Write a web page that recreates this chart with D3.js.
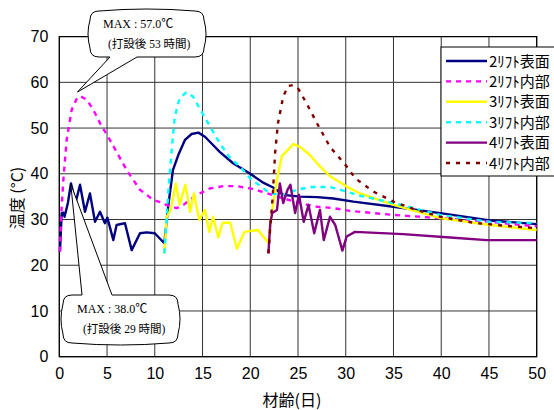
<!DOCTYPE html>
<html><head><meta charset="utf-8">
<script src="https://cdn.jsdelivr.net/npm/d3@7"></script>
<style>body{margin:0;background:#fff} svg{display:block}</style>
</head><body><svg id="c" width="554" height="410"></svg>
<script>
const seriesNames = ["2ﾘﾌﾄ表面","2ﾘﾌﾄ内部","3ﾘﾌﾄ表面","3ﾘﾌﾄ内部","4ﾘﾌﾄ表面","4ﾘﾌﾄ内部"];
const xTicks = [0,5,10,15,20,25,30,35,40,45,50];
const yTicks = [0,10,20,30,40,50,60,70];

const days2S = [0.07,0.25,0.42,0.55,0.9,1.22,1.7,2.17,2.69,3.21,3.74,4.26,4.78,5.03,5.66,6.0,6.88,7.58,8.45,9.15,10.0,11.0,11.4,11.9,12.46,13.16,13.86,14.56,15.26,16.1,16.8,18.2,20.0,21.4,22.4,23.45,25.2,27.0,28.7,30.8,35,39.9,45.1,50];
const temp2S = [23,31.4,31.5,30.6,33.6,37.9,33.6,37.6,31.7,35.7,29.5,31.7,29.2,30.4,25.5,28.8,29.2,23.3,27.0,27.2,27.0,24.8,32.8,40.8,44.1,47.4,48.7,49.0,48.1,46.3,44.8,42.3,40.0,38.0,37.0,35.4,35.0,34.9,34.6,33.9,32.8,31.4,29.8,29.0];

const days2I = [0.07,0.2,0.42,0.77,1.3,1.8,2.17,2.87,3.56,4.26,5.3,7.06,8.45,9.84,10.9,11.2,12.3,13.0,14.4,15.8,17.2,18.6,20.0,21.4,22.8,23.5,25.2,27,28.7,30.4,35,39.9,45.1,50];
const temp2I = [23,31,38.6,47.4,54,56.3,57.0,56.2,54,51.1,47.4,40.8,36.5,34.3,33.6,33.2,32.5,33.2,35.4,36.8,37.3,37.3,36.8,36.0,35.0,34.6,33.6,32.8,32.5,31.9,31.0,30.3,29.5,28.5];

const days3S = [11.0,11.25,11.66,12.2,12.6,13.2,13.7,14.1,14.66,15.26,15.7,16.1,16.65,17.1,17.9,18.6,19.4,20.8,21.9,22.2,22.8,23.3,24.5,25.2,26.25,27.3,28.4,30.1,31.5,35,39.9,45.1,50];
const temp3S = [22.6,30.6,32.1,37.9,33.2,37.6,31.7,35.7,29.9,32.1,27.3,30.6,26.1,29.3,29.3,23.6,27.3,27.7,24.9,30.6,38.7,43.8,46.5,45.9,44.1,41.6,39.4,37.2,35.7,33.2,30.3,28.8,27.7];

const days3I = [11.0,11.2,11.4,11.8,12.1,12.6,13.3,14.0,14.7,15.8,16.8,17.9,18.9,20.0,21.0,22.07,23.45,24.9,26.25,28.4,30.1,31.5,35,39.9,45.1,50];
const temp3I = [22.6,28.4,35.7,45.9,52.5,56.5,57.8,56.9,54.3,50.3,46.7,43.4,41.6,39.0,37.4,35.7,35.4,36.5,37.1,37.1,36.1,35.2,33.6,31.0,29.5,29.2];

const days4S = [21.9,22.1,22.3,22.8,23.1,23.45,23.9,24.2,24.7,25.1,25.6,26.1,26.7,27.3,27.7,28.35,28.9,29.65,30.1,30.96,36,41.3,44.75,50];
const temp4S = [22.6,29.2,31.4,32.1,37.9,33.6,36.5,37.6,31.4,35.4,29.5,33.2,27.0,32.1,25.5,30.6,28.8,23.2,26.3,27.3,26.8,26.0,25.5,25.5];

const days4I = [21.9,22.1,22.35,22.6,22.9,23.45,23.97,24.5,25.0,25.9,27.0,28.35,30.1,31.0,32.9,35,37.4,39.9,43.35,46.8,50];
const temp4I = [22.6,28.4,35.0,44.5,51.0,56.9,59.2,59.4,58.7,55.4,51.0,45.9,41.6,39.0,36.1,33.9,32.1,30.6,29.3,28.6,28.1];

const maxInner = {day: 1.9, temp: 57.0, lines: ["MAX : 57.0℃", "(打設後 53 時間)"]};
const maxSurface = {day: 1.2, temp: 38.0, lines: ["MAX : 38.0℃", "(打設後 29 時間)"]};

const seriesData = [
  [days2S, temp2S], [days2I, temp2I], [days3S, temp3S],
  [days3I, temp3I], [days4S, temp4S], [days4I, temp4I]
];
const colors = ["#000080","#FF00FF","#FFFF00","#00FFFF","#800080","#800000"];
const dashes = [null,"5,5",null,"5,5",null,"4,6"];

const svg = d3.select("#c");
const L = 59.3, R = 536.7, T = 36.6, B = 356.7;
const x = d3.scaleLinear().domain([0,50]).range([L,R]);
const y = d3.scaleLinear().domain([0,70]).range([B,T]);

svg.append("rect").attr("width",554).attr("height",410).attr("fill","#fff");

// grid
const g = svg.append("g");
g.selectAll(".vx").data(xTicks).join("line")
  .attr("x1",d=>x(d)).attr("x2",d=>x(d)).attr("y1",T).attr("y2",B)
  .attr("stroke","#333").attr("stroke-width",1);
g.selectAll(".hy").data(yTicks).join("line")
  .attr("x1",L).attr("x2",R).attr("y1",d=>y(d)).attr("y2",d=>y(d))
  .attr("stroke","#333").attr("stroke-width",1);
svg.append("rect").attr("x",L).attr("y",T).attr("width",R-L).attr("height",B-T)
  .attr("fill","none").attr("stroke","#000").attr("stroke-width",1.2);

// axes tick labels
const xa = svg.append("g").attr("transform",`translate(0,${B})`)
  .call(d3.axisBottom(x).tickValues(xTicks).tickSize(0).tickPadding(10).tickFormat(d3.format("d")));
xa.select(".domain").remove();
xa.selectAll("text").attr("font-family","Liberation Sans, Arial, sans-serif").attr("font-size",16).attr("fill","#000").attr("dy","0.75em");
const ya = svg.append("g").attr("transform",`translate(${L},0)`)
  .call(d3.axisLeft(y).tickValues(yTicks).tickSize(0).tickPadding(11).tickFormat(d3.format("d")));
ya.select(".domain").remove();
ya.selectAll("text").attr("font-family","Liberation Sans, Arial, sans-serif").attr("font-size",16).attr("fill","#000");

// axis titles
svg.append("text").attr("x",292).attr("y",406).attr("text-anchor","middle")
  .attr("font-family","Noto Sans CJK JP, sans-serif").attr("font-size",16).text("材齢(日)");
svg.append("text").attr("transform","translate(23,198) rotate(-90)").attr("text-anchor","middle")
  .attr("font-family","Noto Sans CJK JP, sans-serif").attr("font-size",16).text("温度 (°C)");

// lines
const line = d3.line().x(d=>x(d[0])).y(d=>y(d[1]));
seriesData.forEach((s,i)=>{
  const pts = s[0].map((d,j)=>[d,s[1][j]]);
  svg.append("path").datum(pts).attr("d",line).attr("fill","none")
    .attr("stroke",colors[i]).attr("stroke-width",2.4)
    .attr("stroke-dasharray",dashes[i]).attr("stroke-linejoin","round");
});

// callouts
function callout(x0,y0,x1,y1,tx,ty,bA,bB,wedgeBottom){
  const r=9,b=4,my=(y0+y1)/2,mx=(x0+x1)/2;
  const p=d3.path();
  p.moveTo(x0+r,y0);
  if(!wedgeBottom){ p.lineTo(bA,y0); p.lineTo(tx,ty); p.lineTo(bB,y0); p.lineTo(x1-r,y0); }
  else p.quadraticCurveTo(mx,y0-b,x1-r,y0);
  p.quadraticCurveTo(x1,y0,x1,y0+r);
  p.quadraticCurveTo(x1+b,my,x1,y1-r);
  p.quadraticCurveTo(x1,y1,x1-r,y1);
  if(wedgeBottom){ p.lineTo(bB,y1); p.lineTo(tx,ty); p.lineTo(bA,y1); p.lineTo(x0+r,y1); }
  else p.quadraticCurveTo(mx,y1+b,x0+r,y1);
  p.quadraticCurveTo(x0,y1,x0,y1-r);
  p.quadraticCurveTo(x0-b,my,x0,y0+r);
  p.quadraticCurveTo(x0,y0,x0+r,y0);
  p.closePath();
  svg.append("path").attr("d",p.toString()).attr("fill","#fff").attr("stroke","#000").attr("stroke-width",1);
}
callout(90,11,204,57,x(maxInner.day),y(maxInner.temp)-4,110,137,true);
callout(63,295,178,343,x(maxSurface.day),y(maxSurface.temp)+1,82,112,false);
const tf = "Liberation Serif, Noto Sans CJK JP, serif";
[[maxInner,103,28,108,48],[maxSurface,77,313,83,333]].forEach(([m,a,ay,b2,by])=>{
  svg.append("text").attr("x",a).attr("y",ay).attr("font-family",tf).attr("font-size",12).text(m.lines[0]);
  svg.append("text").attr("x",b2).attr("y",by).attr("font-family",tf).attr("font-size",11.5).text(m.lines[1]);
});

// legend
const lg = svg.append("g");
lg.append("rect").attr("x",441).attr("y",47).attr("width",130).attr("height",129)
  .attr("fill","#fff").attr("stroke","#000").attr("stroke-width",1);
seriesNames.forEach((n,i)=>{
  const yy = 61 + i*20.4;
  lg.append("line").attr("x1",446).attr("x2",487).attr("y1",yy).attr("y2",yy)
    .attr("stroke",colors[i]).attr("stroke-width",2.4).attr("stroke-dasharray",dashes[i]);
  lg.append("text").attr("x",489).attr("y",yy+5.5).attr("font-family","Noto Sans CJK JP, sans-serif")
    .attr("font-size",15).text(n);
});
</script></body></html>
